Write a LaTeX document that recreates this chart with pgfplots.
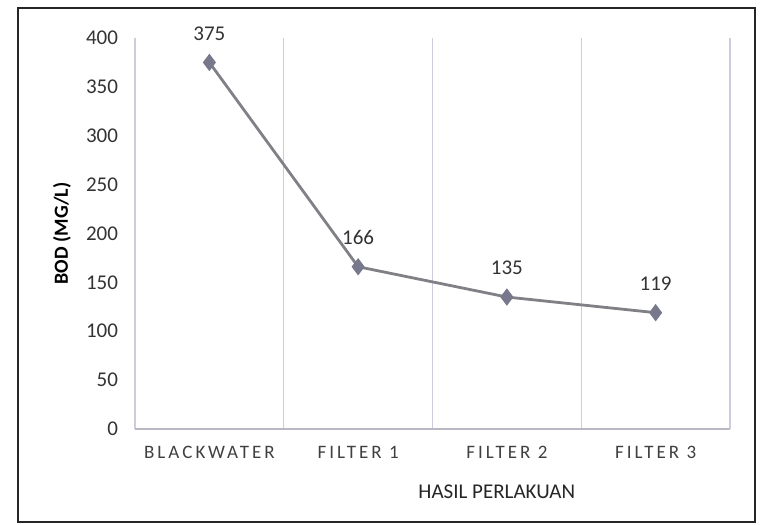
\documentclass[border=0pt]{standalone}
\usepackage{fontspec}
\setmainfont{Carlito}
\newfontfamily\spaced[LetterSpace=16]{Carlito}
\usepackage{pgfplots}
\pgfplotsset{compat=1.18}
\definecolor{gridc}{RGB}{205,205,222}
\definecolor{axc}{RGB}{185,185,195}
\definecolor{linec}{RGB}{128,128,135}
\definecolor{markc}{RGB}{120,120,140}
\begin{document}
\begin{tikzpicture}
\useasboundingbox (-67.5pt,-47.5pt) rectangle (314.5pt,214.5pt);
\begin{axis}[
  at={(0,0)}, anchor=south west,
  scale only axis, width=297.5pt, height=195.5pt,
  xmin=0, xmax=4, ymin=0, ymax=400,
  axis line style={draw=none},
  xtick={0.5,1.5,2.5,3.5},
  xticklabels={BLACKWATER,FILTER 1,FILTER 2,FILTER 3},
  xticklabel style={font=\spaced\fontsize{9.5}{11}\selectfont, text=black!75, yshift=-5pt},
  minor xtick={0,1,2,3,4},
  xminorgrids, minor x grid style={gridc, line width=0.6pt},
  ytick={0,50,...,400},
  yticklabel style={font=\fontsize{10.5}{12}\selectfont, text=black!80, xshift=-5pt},
  /pgf/number format/assume math mode=true,
  major tick length=0pt, minor tick length=0pt,
  xlabel={HASIL PERLAKUAN},
  xlabel style={font=\fontsize{10.5}{12}\selectfont, at={(axis description cs:0.608,0)}, anchor=center, yshift=-31.5pt, text=black!85},
  ylabel={BOD (MG/L)},
  ylabel style={font=\bfseries\fontsize{10}{12}\selectfont, at={(axis description cs:-0.1227,0.5)}, anchor=center},
  clip=false,
  nodes near coords,
  nodes near coords style={font=\fontsize{10.5}{12}\selectfont, text=black!80, anchor=center, yshift=14.5pt},
]
\draw[axc, line width=0.8pt] (axis cs:0,0) -- (axis cs:4,0);
\addplot[linec, line width=1.4pt, mark=diamond*, mark size=3.2pt, mark options={fill=markc, draw=markc}] coordinates {
  (0.5,375) (1.5,166) (2.5,135) (3.5,119)
};
\end{axis}
\draw[black!85, line width=1pt] (-58.5pt,-46.5pt) rectangle (310pt,210.5pt);
\end{tikzpicture}
\end{document}
